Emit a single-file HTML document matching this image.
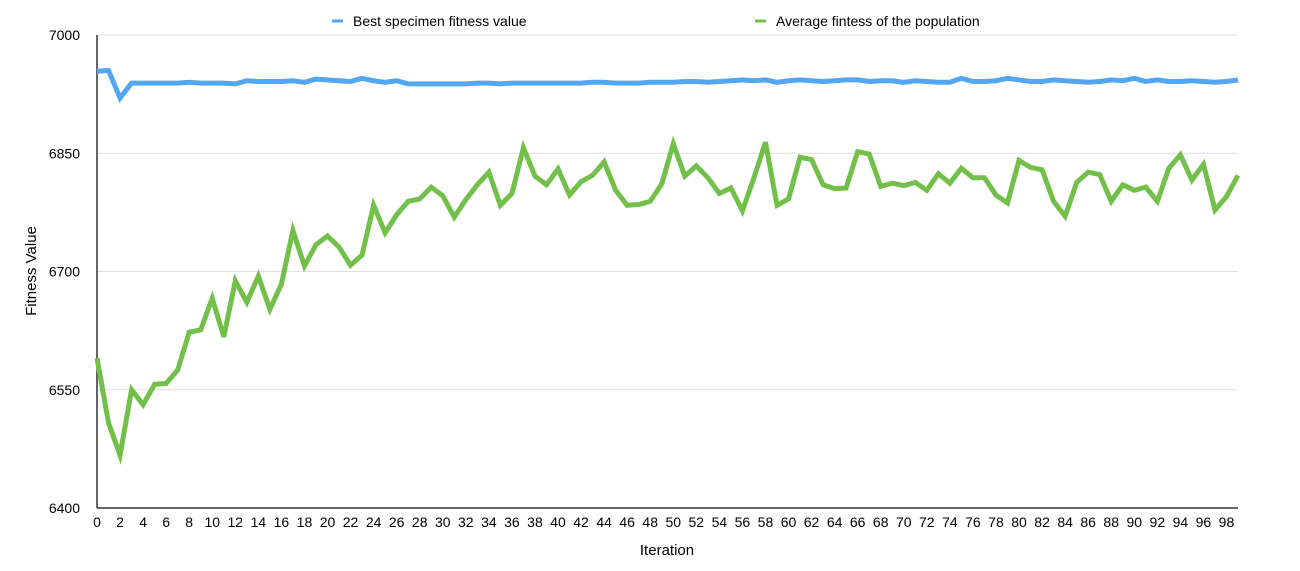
<!DOCTYPE html>
<html><head><meta charset="utf-8"><style>
body{margin:0;background:#fff;font-family:"Liberation Sans",sans-serif}
svg text{font-family:"Liberation Sans",sans-serif;fill:#000}
</style></head><body>
<svg id="chart" width="1300" height="566">
<g id="grid"></g><g id="axes"></g><g id="series"></g>
<g>
<line x1="332" y1="21" x2="343" y2="21" stroke="#53a6f0" stroke-width="3"/>
<text x="353" y="26" font-size="14">Best specimen fitness value</text>
<line x1="755" y1="21" x2="766" y2="21" stroke="#72c04a" stroke-width="3"/>
<text x="776" y="26" font-size="14">Average fintess of the population</text>
</g>
<text x="667" y="555" font-size="15" text-anchor="middle">Iteration</text>
<text transform="translate(36,271) rotate(-90)" font-size="15" text-anchor="middle">Fitness Value</text>
</svg>
<script>
const yTicks=[6400,6550,6700,6850,7000];
const best=[6954,6955,6920,6939,6939,6939,6939,6939,6940,6939,6939,6939,6938,6942,6941,6941,6941,6942,6940,6944,6943,6942,6941,6945,6942,6940,6942,6938,6938,6938,6938,6938,6938,6939,6939,6938,6939,6939,6939,6939,6939,6939,6939,6940,6940,6939,6939,6939,6940,6940,6940,6941,6941,6940,6941,6942,6943,6942,6943,6940,6942,6943,6942,6941,6942,6943,6943,6941,6942,6942,6940,6942,6941,6940,6940,6945,6941,6941,6942,6945,6943,6941,6941,6943,6942,6941,6940,6941,6943,6942,6945,6941,6943,6941,6941,6942,6941,6940,6941,6943];
const avg=[6590,6508,6467,6550,6531,6557,6558,6575,6623,6626,6666,6617,6688,6661,6694,6652,6684,6752,6707,6734,6745,6731,6708,6721,6784,6749,6772,6789,6792,6807,6796,6769,6791,6810,6826,6784,6799,6857,6821,6810,6830,6797,6814,6822,6839,6803,6784,6785,6789,6811,6862,6821,6834,6819,6799,6806,6777,6819,6864,6784,6792,6845,6842,6810,6805,6806,6852,6849,6808,6812,6809,6813,6803,6824,6812,6831,6819,6819,6797,6787,6841,6832,6829,6789,6770,6813,6826,6823,6789,6810,6803,6807,6789,6831,6848,6816,6836,6778,6795,6822];
const ns="http://www.w3.org/2000/svg";
const X0=97,X1=1238,Y0=508,Y1=35;
function xs(i){return X0+i*(X1-X0)/99;}
function ys(v){return Y0-(v-6400)/600*(Y0-Y1);}
function mk(t,a,p){const e=document.createElementNS(ns,t);for(const k in a)e.setAttribute(k,a[k]);p.appendChild(e);return e;}
const grid=document.getElementById('grid'),axes=document.getElementById('axes'),ser=document.getElementById('series');
yTicks.forEach(v=>{
 if(v>6400){const g=mk('line',{x1:X0,x2:X1,y1:ys(v),y2:ys(v),stroke:'#e0e0e0','stroke-width':1},grid);
 
 }
 const t=mk('text',{x:80,y:ys(v)+5,'font-size':14,'text-anchor':'end'},axes);t.textContent=v;
 
 
});
for(let i=0;i<=98;i+=2){const t=mk('text',{x:xs(i),y:527,'font-size':14,'text-anchor':'middle'},axes);t.textContent=i;
 
 }
const ya=mk('line',{x1:X0,x2:X0,y1:Y1,y2:Y0,stroke:'#333','stroke-width':1.5},axes);


const xa=mk('line',{x1:X0,x2:X1,y1:Y0,y2:Y0,stroke:'#333','stroke-width':1.5},axes);


function line(d,c,n){const p=mk('polyline',{points:d.map((v,i)=>xs(i)+','+ys(v)).join(' '),fill:'none',stroke:c,'stroke-width':5,'stroke-linejoin':'miter'},ser);
 
 }
line(best,'#53a6f0','best-fitness-line');
line(avg,'#72c04a','average-fitness-line');
</script>
</body></html>
